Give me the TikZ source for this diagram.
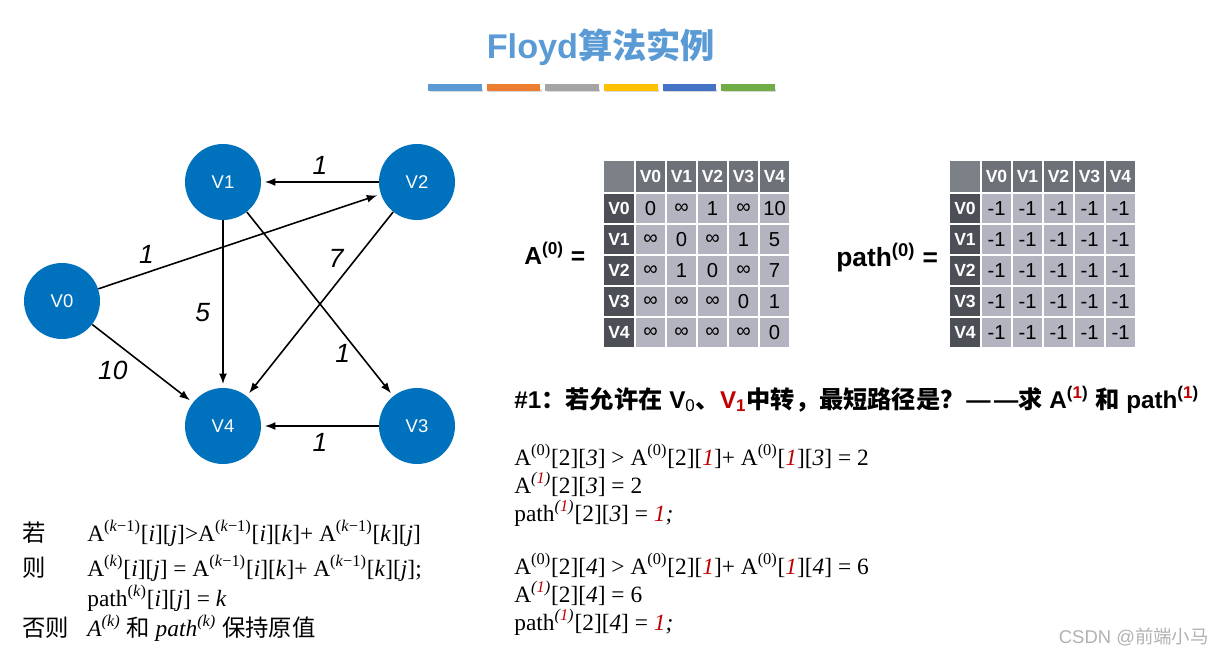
\documentclass[tikz,border=0pt]{standalone}
\usepackage{fontspec}
\setmainfont{Liberation Serif}
\setsansfont{Liberation Sans}
\newfontfamily\cjk{Noto Sans CJK SC}
\usetikzlibrary{positioning,arrows.meta}
\definecolor{titleblue}{HTML}{5B9BD5}
\definecolor{nodeblue}{HTML}{0071BC}
\definecolor{cellgray}{HTML}{B4B4C0}
\definecolor{headgray}{HTML}{6D7178}
\definecolor{sidegray}{HTML}{4C4F56}
\definecolor{cornergray}{HTML}{7C8087}
\definecolor{eqred}{HTML}{C00000}
\newcommand{\rd}[1]{\textcolor{eqred}{#1}}
\newcommand{\zh}[1]{{\cjk #1}}
\newcommand{\sups}[1]{\textsuperscript{#1}}
\tikzset{
  vertex/.style={circle, fill=nodeblue, text=white, minimum size=1.52cm, inner sep=0pt,
    font=\sffamily\fontsize{10.5}{12}\selectfont},
  edge/.style={-{Latex[length=6pt,width=4.5pt]}, line width=0.9pt, shorten >=2pt},
  wlabel/.style={font=\sffamily\itshape\fontsize{15}{16}\selectfont, inner sep=1pt},
  cell/.style={rectangle, fill=cellgray, draw=white, line width=0.7pt, minimum width=0.62cm,
    minimum height=0.62cm, inner sep=0pt, font=\sffamily\fontsize{11.5}{12}\selectfont},
  hcell/.style={cell, fill=headgray, text=white, minimum height=0.66cm, font=\sffamily\bfseries\fontsize{10}{12}\selectfont},
  scell/.style={cell, fill=sidegray, text=white, minimum width=0.64cm, font=\sffamily\bfseries\fontsize{10}{12}\selectfont},
  eqline/.style={anchor=base west, inner sep=0pt, font=\fontsize{13.3}{15}\selectfont},
  bar/.style={minimum width=1.07cm, minimum height=0.14cm, inner sep=0pt}
}
\begin{document}
\begin{tikzpicture}[x=0.02cm, y=-0.02cm]
  \useasboundingbox[fill=white] (0,0) rectangle (1225,659);
  % title and colour bars
  \node[text=titleblue, font=\fontsize{19.5}{24}\selectfont] (title) at (601,47)
    {\sffamily\bfseries Floyd\cjk\bfseries 算法实例};
  \foreach \col [count=\i] in {5B9BD5,ED7D31,A5A5A5,FFC000,4472C4,70AD47} {
    \definecolor{barcol}{HTML}{\col}
    \fill[black!15] ({428+58.6*(\i-1)+1.5},89) rectangle +(53.5,3);
    \node[bar, fill=barcol] (bar\i) at ({455+58.6*(\i-1)},87.5) {};
  }
  % graph
  \node[vertex] (v0) at (62,301) {V0};
  \node[vertex] (v1) at (223,182) {V1};
  \node[vertex] (v2) at (417,182) {V2};
  \node[vertex] (v3) at (417,426) {V3};
  \node[vertex] (v4) at (223,426) {V4};
  \draw[edge] (v2) -- node[wlabel, above=3pt] (w21) {1} (v1);
  \draw[edge] (v0) -- node[wlabel, pos=.17, above=4pt] (w02) {1} (v2);
  \draw[edge] (v1) -- node[wlabel, pos=.55, left=6pt] (w14) {5} (v4);
  \draw[edge] (v2) -- node[wlabel, pos=.25, left=6pt] (w24) {7} (v4);
  \draw[edge] (v1) -- node[wlabel, pos=.77, left=4pt] (w13) {1} (v3);
  \draw[edge] (v0) -- node[wlabel, pos=.4, below left=2pt] (w04) {10} (v4);
  \draw[edge] (v3) -- node[wlabel, below=3pt] (w34) {1} (v4);
  % matrix A(0)
  \node[anchor=base west, inner sep=0pt, font=\sffamily\bfseries\fontsize{14}{16}\selectfont] (alabel)
    at (524,264) {A\sups{(0)} =};
  \node[hcell, fill=cornergray, minimum width=0.64cm] (a00) at (619,176.5) {};
  \foreach \n [count=\c] in {0,...,4} {
    \node[hcell] (ah\c) at ({619.5+31*\c},176.5) {V\n};
    \node[scell] (as\c) at (619,{177.5+31*\c}) {V\n};
  }
  \foreach \row [count=\r] in {{0,∞,1,∞,10},{∞,0,∞,1,5},{∞,1,0,∞,7},{∞,∞,∞,0,1},{∞,∞,∞,∞,0}} {
    \foreach \v [count=\c] in \row {
      \node[cell] (a\r-\c) at ({619.5+31*\c},{177.5+31*\r}) {\v};
    }
  }
  % matrix path(0)
  \node[anchor=base west, inner sep=0pt, font=\sffamily\bfseries\fontsize{15}{17}\selectfont] (plabel)
    at (836,266) {path\sups{(0)} =};
  \node[hcell, fill=cornergray, minimum width=0.64cm] (p00) at (965,176.5) {};
  \foreach \n [count=\c] in {0,...,4} {
    \node[hcell] (ph\c) at ({965.5+31*\c},176.5) {V\n};
    \node[scell] (ps\c) at (965,{177.5+31*\c}) {V\n};
    \foreach \r in {1,...,5} {
      \node[cell] (p\r-\c) at ({965.5+31*\c},{177.5+31*\r}) {-1};
    }
  }
  % question
  \node[anchor=base west, inner sep=0pt, font=\sffamily\bfseries\fontsize{13.8}{16}\selectfont] (quest) at (514,408)
    {\#1\zh{\bfseries ：若允许在} V\textsubscript{\mdseries 0}\zh{、}\rd{V\textsubscript{1}}\zh{\bfseries 中转，最短路径是？}\kern1pt—\kern2pt—\zh{\bfseries 求}
     A\sups{(\rd{1})} \zh{\bfseries 和} path\sups{(\rd{1})}};
  % worked example
  \node[eqline] (e1) at (514,465) {A\sups{(0)}[2][\textit{3}] > A\sups{(0)}[2][\textit{\rd{1}}]+ A\sups{(0)}[\textit{\rd{1}}][\textit{3}] = 2};
  \node[eqline] (e2) at (514,493) {A\sups{\textit{(\rd{1})}}[2][\textit{3}] = 2};
  \node[eqline] (e3) at (514,521) {path\sups{\textit{(\rd{1})}}[2][\textit{3}] = \textit{\rd{1};}};
  \node[eqline] (e4) at (514,574) {A\sups{(0)}[2][\textit{4}] > A\sups{(0)}[2][\textit{\rd{1}}]+ A\sups{(0)}[\textit{\rd{1}}][\textit{4}] = 6};
  \node[eqline] (e5) at (514,602) {A\sups{\textit{(\rd{1})}}[2][\textit{4}] = 6};
  \node[eqline] (e6) at (514,630) {path\sups{\textit{(\rd{1})}}[2][\textit{4}] = \textit{\rd{1};}};
  % rule
  \node[eqline] (r1) at (22,541) {\zh{若}};
  \node[eqline] (r2) at (22,576) {\zh{则}};
  \node[eqline] (r4) at (22,636) {\zh{否则}};
  \node[eqline] (f1) at (87,541) {A\sups{(\textit{k}−1)}[\textit{i}][\textit{j}]>A\sups{(\textit{k}−1)}[\textit{i}][\textit{k}]+ A\sups{(\textit{k}−1)}[\textit{k}][\textit{j}]};
  \node[eqline] (f2) at (87,576) {A\sups{(\textit{k})}[\textit{i}][\textit{j}] = A\sups{(\textit{k}−1)}[\textit{i}][\textit{k}]+ A\sups{(\textit{k}−1)}[\textit{k}][\textit{j}];};
  \node[eqline] (f3) at (87,606) {path\sups{(\textit{k})}[\textit{i}][\textit{j}] = \textit{k}};
  \node[eqline] (f4) at (87,636) {\textit{A\sups{(k)}} \zh{和} \textit{path\sups{(k)}} \zh{保持原值}};
  % watermark
  \node[anchor=east, text=black!30, font=\sffamily\fontsize{10.5}{12}\selectfont] (mark) at (1215,637) {CSDN @\zh{前端小马}};
\end{tikzpicture}
\end{document}
